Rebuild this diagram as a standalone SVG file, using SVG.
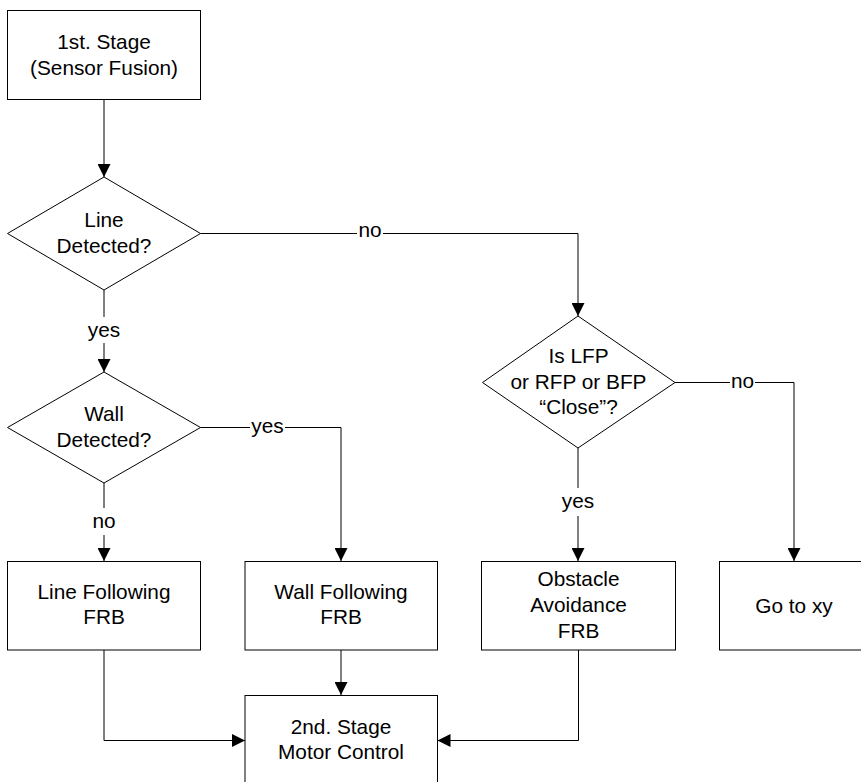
<svg xmlns="http://www.w3.org/2000/svg" width="861" height="782" viewBox="0 0 861 782">
  <style>
    .shape { fill: #fff; stroke: #000; stroke-width: 1; }
    .wire { fill: none; stroke: #000; stroke-width: 1; }
    .txt { font-family: "Liberation Sans", Arial, sans-serif; font-size: 20.8px; text-anchor: middle; fill: #000; }
    .gap { fill: #fff; stroke: none; }
  </style>
  <defs>
    <marker id="arrow" viewBox="0 0 13 13" refX="13" refY="6.5" markerWidth="13" markerHeight="13" markerUnits="userSpaceOnUse" orient="auto">
      <path d="M0,0 L13,6.5 L0,13 z" fill="#000"/>
    </marker>
  </defs>
  <rect width="861" height="782" fill="#fff"/>

  <!-- connectors -->
  <g id="connectors">
    <path class="wire" d="M104,99.5 V177" marker-end="url(#arrow)"/>
    <path class="wire" d="M200.5,233.5 H578 V316" marker-end="url(#arrow)"/>
    <path class="wire" d="M104,290 V372" marker-end="url(#arrow)"/>
    <path class="wire" d="M200.5,427.5 H341 V561" marker-end="url(#arrow)"/>
    <path class="wire" d="M104,483 V561" marker-end="url(#arrow)"/>
    <path class="wire" d="M578,448 V561" marker-end="url(#arrow)"/>
    <path class="wire" d="M675,382.5 H794 V561" marker-end="url(#arrow)"/>
    <path class="wire" d="M104,650 V740.5 H245" marker-end="url(#arrow)"/>
    <path class="wire" d="M341,650 V695" marker-end="url(#arrow)"/>
    <path class="wire" d="M578.5,650 V740.5 H437.5" marker-end="url(#arrow)"/>

    <!-- branch labels -->
    <rect class="gap" x="357" y="222" width="26" height="22"/>
    <text class="txt" x="370" y="236.5">no</text>
    <rect class="gap" x="86" y="317" width="36" height="26"/>
    <text class="txt" x="104" y="337">yes</text>
    <rect class="gap" x="250" y="416" width="35" height="22"/>
    <text class="txt" x="267.5" y="432.5">yes</text>
    <rect class="gap" x="90" y="508" width="28" height="27"/>
    <text class="txt" x="104" y="527.5">no</text>
    <rect class="gap" x="560" y="488" width="36" height="28"/>
    <text class="txt" x="578" y="507.5">yes</text>
    <rect class="gap" x="730" y="371" width="25" height="22"/>
    <text class="txt" x="742.5" y="388">no</text>
  </g>

  <g id="sensor-fusion">
    <rect class="shape" x="7.5" y="10.5" width="193" height="89"/>
    <text class="txt" x="104" y="48.5">1st. Stage</text>
    <text class="txt" x="104" y="74.5">(Sensor Fusion)</text>
  </g>

  <g id="line-detected">
    <polygon class="shape" points="104,177 200.5,233.5 104,290 7.5,233.5"/>
    <text class="txt" x="104" y="227">Line</text>
    <text class="txt" x="104" y="253">Detected?</text>
  </g>

  <g id="wall-detected">
    <polygon class="shape" points="104,372 200.5,427.5 104,483 7.5,427.5"/>
    <text class="txt" x="104" y="420.5">Wall</text>
    <text class="txt" x="104" y="446.5">Detected?</text>
  </g>

  <g id="obstacle-close">
    <polygon class="shape" points="578,316 675,382.5 578,448 482.5,382.5"/>
    <text class="txt" x="578.5" y="363">Is LFP</text>
    <text class="txt" x="578.5" y="388.5">or RFP or BFP</text>
    <text class="txt" x="578.5" y="414">“Close”?</text>
  </g>

  <g id="line-following">
    <rect class="shape" x="7.5" y="561.5" width="193" height="88.5"/>
    <text class="txt" x="104" y="598.5">Line Following</text>
    <text class="txt" x="104" y="623.5">FRB</text>
  </g>

  <g id="wall-following">
    <rect class="shape" x="245" y="561.5" width="192.5" height="88.5"/>
    <text class="txt" x="341" y="598.5">Wall Following</text>
    <text class="txt" x="341" y="623.5">FRB</text>
  </g>

  <g id="obstacle-avoidance">
    <rect class="shape" x="481.5" y="561.5" width="194" height="88.5"/>
    <text class="txt" x="578.5" y="586">Obstacle</text>
    <text class="txt" x="578.5" y="612">Avoidance</text>
    <text class="txt" x="578.5" y="637.5">FRB</text>
  </g>

  <g id="go-to-xy">
    <rect class="shape" x="719.5" y="561.5" width="160" height="88.5"/>
    <text class="txt" x="794" y="612.5">Go to xy</text>
  </g>

  <g id="motor-control">
    <rect class="shape" x="245" y="695.5" width="192.5" height="90"/>
    <text class="txt" x="341" y="733.5">2nd. Stage</text>
    <text class="txt" x="341" y="759">Motor Control</text>
  </g>
</svg>
